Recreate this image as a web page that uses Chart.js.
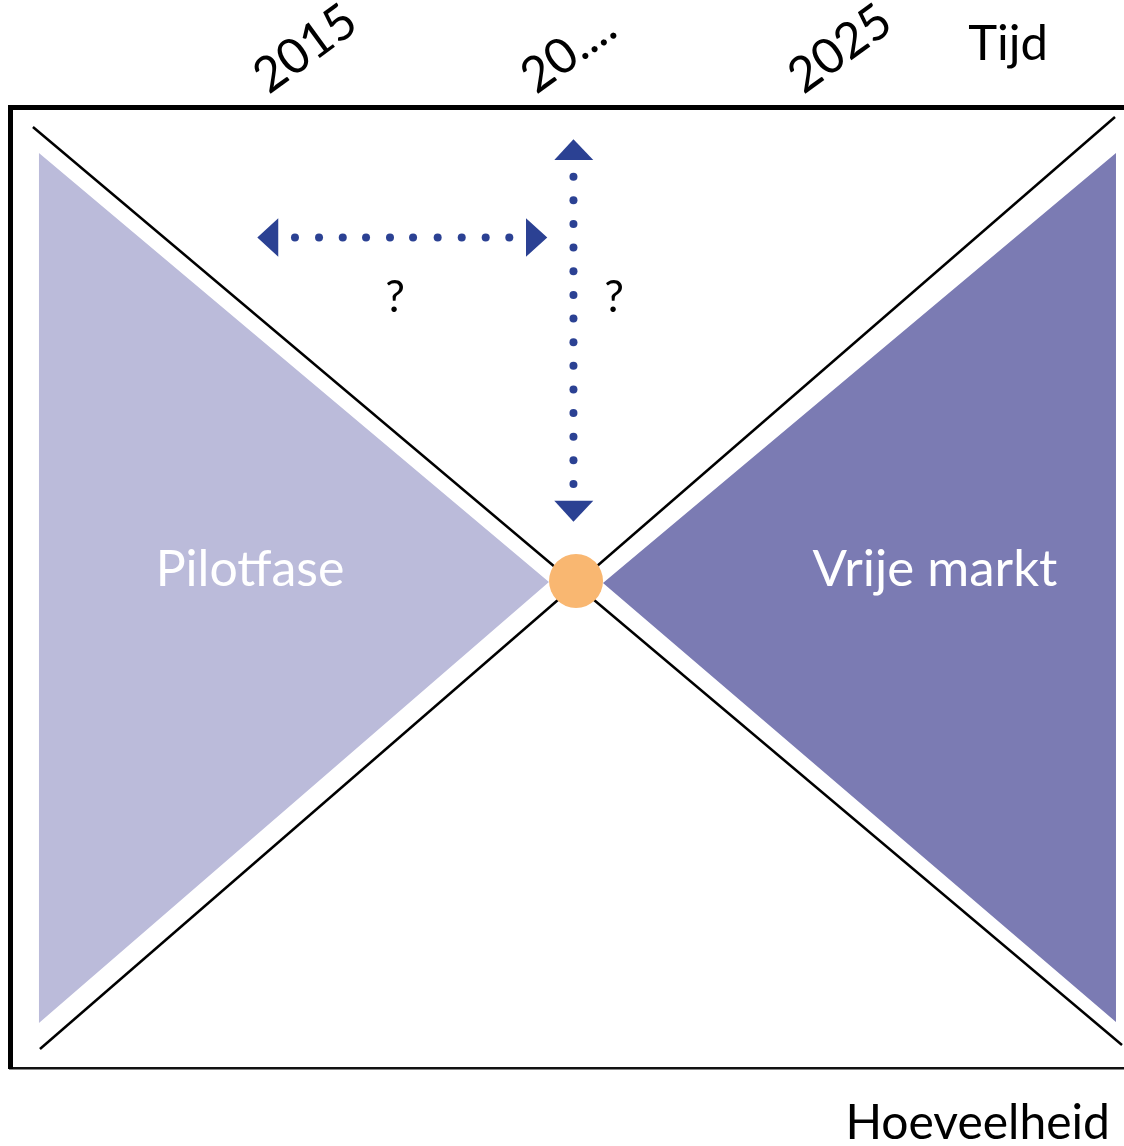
<!DOCTYPE html>
<html><head><meta charset="utf-8">
<script src="https://cdn.jsdelivr.net/npm/chart.js@4.4.1/dist/chart.umd.min.js"></script>
<style>html,body{margin:0;padding:0;background:#fff}#wrap{width:1124px;height:1146px;position:relative}</style>
</head><body><div id="wrap"><canvas id="c"></canvas></div>
<script>
// ---- data (conceptual units: 0..100 across the frame) ----
const tickValues = [25.5, 49.5, 73.5];
const tickLabels = ['2015', '20....', '2025'];

const pilotfase   = [{x:2.6,y:95.21},{x:2.6,y:4.68},{x:48.38,y:50.57},{x:2.6,y:95.21}];
const vrijeMarkt  = [{x:99.28,y:95.21},{x:99.28,y:4.79},{x:53.23,y:50.47},{x:99.28,y:95.21}];
const lineDown    = [{x:2.06,y:97.92},{x:99.82,y:2.39}];
const lineUp      = [{x:2.69,y:1.98},{x:99.19,y:98.96}];

const hDotsX = [25.58, 27.74, 29.87, 31.96, 34.11, 36.18, 38.39, 40.55, 42.70, 44.82];
const hDotsY = 86.42;
const vDotsX = 50.58;
const vDotsY = [92.75, 90.29, 87.83, 85.37, 82.91, 80.45, 77.99, 75.53, 73.07, 70.61, 68.15, 65.69, 63.23, 60.77];

const headLeft  = [{x:22.20,y:86.42},{x:24.08,y:88.42},{x:24.08,y:84.42},{x:22.20,y:86.42}];
const headRight = [{x:48.23,y:86.42},{x:46.32,y:88.42},{x:46.32,y:84.42},{x:48.23,y:86.42}];
const headUp    = [{x:50.58,y:96.64},{x:48.86,y:94.48},{x:52.36,y:94.48},{x:50.58,y:96.64}];
const headDown  = [{x:50.58,y:56.85},{x:48.86,y:59.03},{x:52.36,y:59.03},{x:50.58,y:56.85}];

const meetPoint = [{x:50.81,y:50.68}];

const textLabels = [
  {text:'Pilotfase',   x:21.55, y:50.16, color:'#ffffff', size:50, align:'center'},
  {text:'Vrije markt', x:83.03, y:50.16, color:'#ffffff', size:51, align:'center'},
  {text:'?',           x:34.56, y:78.67, color:'#000000', size:44, align:'center'},
  {text:'?',           x:54.22, y:78.67, color:'#000000', size:44, align:'center'},
  {text:'Tijd',        x:89.59, y:104.89, color:'#000000', size:49, align:'center'},
  {text:'Hoeveelheid', x:98.74, y:-7.39, color:'#000000', size:48, align:'right'}
];

// ---- styles ----
const FONT = "Lato, 'Open Sans', sans-serif";
const LIGHT = '#BBBBDA', DARK = '#7B7BB3', BLUE = '#2B4193', ORANGE = '#F9B771';

function polygon(data, color, order) {
  return {data, borderWidth:0, borderColor:color, backgroundColor:color, fill:'shape',
          pointRadius:0, showLine:true, tension:0, order};
}
function segment(data, order) {
  return {data, borderWidth:2.5, borderColor:'#000', backgroundColor:'#000', fill:false,
          pointRadius:0, showLine:true, tension:0, order};
}
function dots(data, order) {
  return {data, showLine:false, pointRadius:4, pointBackgroundColor:BLUE, pointBorderWidth:0,
          borderColor:BLUE, backgroundColor:BLUE, fill:false, order};
}

const datasets = [
  {data:meetPoint, showLine:false, pointRadius:27, pointBackgroundColor:ORANGE, pointBorderWidth:0,
   backgroundColor:ORANGE, borderColor:ORANGE, fill:false, order:0},
  dots(hDotsX.map(x => ({x, y:hDotsY})), 1),
  dots(vDotsY.map(y => ({x:vDotsX, y})), 1),
  polygon(headLeft, BLUE, 1),
  polygon(headRight, BLUE, 1),
  polygon(headUp, BLUE, 1),
  polygon(headDown, BLUE, 1),
  segment(lineDown, 2),
  segment(lineUp, 2),
  polygon(pilotfase, LIGHT, 3),
  polygon(vrijeMarkt, DARK, 3)
];

const textPlugin = {
  id:'textLabels',
  afterDraw(chart) {
    const {ctx, scales:{x, y}} = chart;
    ctx.save();
    textLabels.forEach(l => {
      ctx.font = l.size + 'px ' + FONT;
      ctx.fillStyle = l.color;
      ctx.textAlign = l.align;
      ctx.textBaseline = 'alphabetic';
      ctx.fillText(l.text, x.getPixelForValue(l.x), y.getPixelForValue(l.y));
    });
    ctx.restore();
  }
};

function noPad(s) { s.paddingLeft = 0; s.paddingRight = 0; s.paddingTop = 0; s.paddingBottom = 0; }

new Chart(document.getElementById('c'), {
  type:'line',
  data:{datasets},
  options:{
    responsive:true, maintainAspectRatio:false, animation:false, events:[],
    layout:{padding:0, autoPadding:false},
    plugins:{legend:{display:false}, tooltip:{enabled:false}},
    scales:{
      x:{type:'linear', position:'bottom', min:0, max:100,
         grid:{display:false}, ticks:{display:false},
         border:{display:true, width:2.5, color:'#111'},
         afterFit(s){ s.height = 78; noPad(s); }},
      x2:{type:'linear', position:'top', min:0, max:100,
         grid:{display:false},
         border:{display:true, width:5, color:'#000'},
         afterBuildTicks(s){ s.ticks = tickValues.map(v => ({value:v})); },
         ticks:{autoSkip:false, minRotation:36, maxRotation:36, padding:-7, color:'#000',
                font:{family:FONT, size:49},
                callback(v){ const i = tickValues.indexOf(v); return i >= 0 ? tickLabels[i] : ''; }},
         afterFit(s){ s.height = 107; noPad(s); }},
      y:{type:'linear', position:'left', min:0, max:100,
         grid:{display:false}, ticks:{display:false},
         border:{display:true, width:5, color:'#000'},
         afterFit(s){ s.width = 10; noPad(s); }}
    }
  },
  plugins:[textPlugin]
});
</script>
</body></html>
